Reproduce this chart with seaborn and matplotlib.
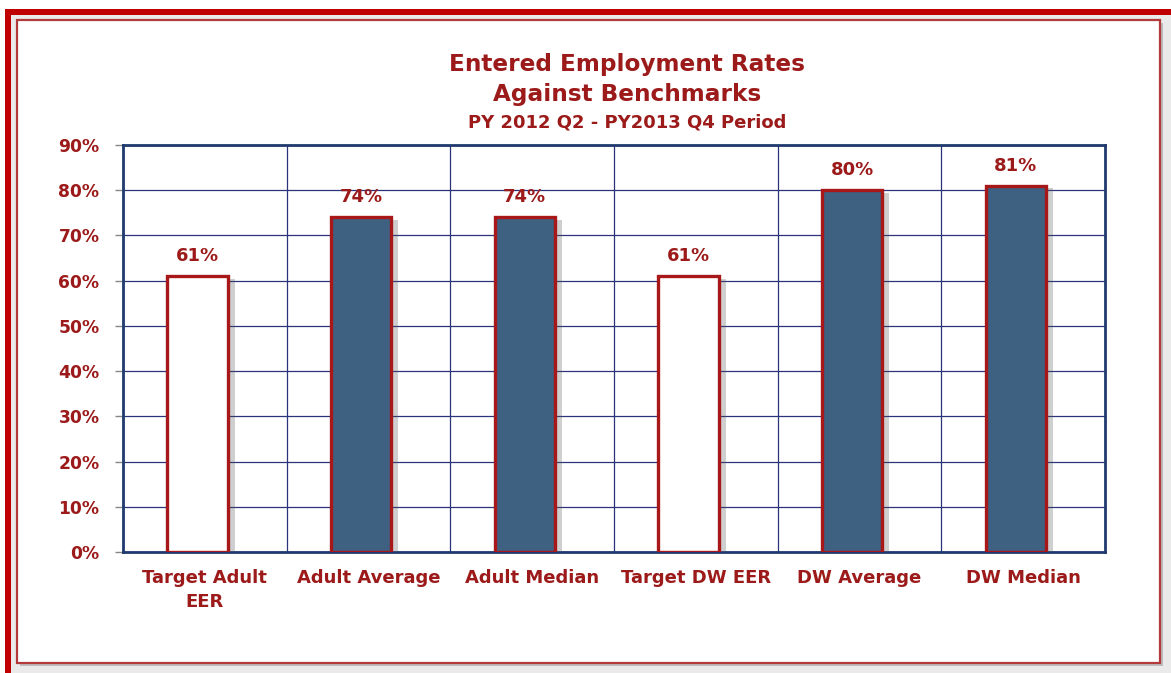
import matplotlib
matplotlib.use("Agg")
import matplotlib.pyplot as plt
import matplotlib.patheffects as pe
from matplotlib.patches import Rectangle
from matplotlib.ticker import FixedLocator
import seaborn as sns
import pandas as pd

categories = ["Target Adult\nEER", "Adult Average", "Adult Median", "Target DW EER", "DW Average", "DW Median"]
values = [61, 74, 74, 61, 80, 81]
is_target = [True, False, False, True, False, False]
title_lines = ["Entered Employment Rates", "Against Benchmarks"]
subtitle = "PY 2012 Q2 - PY2013 Q4 Period"

RED = "#9C1A1A"
EDGE = "#A81818"
FILL = "#3E6081"
NAVY = "#1F3A6E"
GRID = "#2B3478"

sns.set_theme(style="white")
plt.rcParams["font.family"] = ["DejaVu Sans"]

W, H = 1171, 673
fig = plt.figure(figsize=(W / 100, H / 100), dpi=100)
fig.patch.set_facecolor("white")

def frect(x0, y0, x1, y1, **kw):
    r = Rectangle((x0 / W, 1 - y1 / H), (x1 - x0) / W, (y1 - y0) / H,
                  transform=fig.transFigure, **kw)
    fig.patches.append(r)
    return r

# outer decorative border
frect(5, 9, W + 5, H + 5, facecolor="#EAEAEA", edgecolor="none", zorder=0)
frect(5, 9, W + 5, 14.5, facecolor="#C00000", edgecolor="none", zorder=1)
frect(5, 9, 10.5, H + 5, facecolor="#C00000", edgecolor="none", zorder=1)
# inner frame with shadow
frect(20, 23, 1163, 666, facecolor="#BDBDBD", edgecolor="none", zorder=1)
frect(17, 20, 1160, 663, facecolor="white", edgecolor="#B23A3A", linewidth=1.6, zorder=2)

ax = fig.add_axes([123 / W, 1 - 552 / H, (1105 - 123) / W, (552 - 145) / H])
ax.set_zorder(5)
ax.patch.set_facecolor("white")

df = pd.DataFrame({"cat": categories, "val": values})
palette = {c: ("white" if t else FILL) for c, t in zip(categories, is_target)}
sns.barplot(data=df, x="cat", y="val", hue="cat", palette=palette, legend=False,
            width=0.37, saturation=1, ax=ax, edgecolor=EDGE, linewidth=2.4, zorder=3)

for p in ax.patches:
    p.set_x(p.get_x() - 0.045)
    p.set_path_effects([pe.SimplePatchShadow(offset=(5, -2), alpha=0.28, shadow_rgbFace="#555555"), pe.Normal()])

for c in ax.containers:
    ax.bar_label(c, labels=[f"{v:.0f}%" for v in c.datavalues], padding=8,
                 color=RED, fontsize=13, fontweight="bold")

ax.set_ylim(0, 90)
ax.set_xlim(-0.5, len(categories) - 0.5)
ax.set_yticks(range(0, 91, 10))
ax.set_yticklabels([f"{v}%" for v in range(0, 91, 10)])
ax.xaxis.set_minor_locator(FixedLocator([i + 0.5 for i in range(len(categories) - 1)]))
ax.grid(True, axis="y", which="major", color=GRID, linewidth=0.9, zorder=0)
ax.grid(True, axis="x", which="minor", color=GRID, linewidth=0.9, zorder=0)
ax.grid(False, axis="x", which="major")
ax.set_axisbelow(True)

for s in ax.spines.values():
    s.set_visible(True)
    s.set_color(NAVY)
    s.set_linewidth(2)

ax.set_xlabel("")
ax.set_ylabel("")
ax.tick_params(axis="y", which="major", left=True, length=6, width=1, color="#888888",
               pad=11, labelcolor=RED, labelsize=12.3)
ax.tick_params(axis="x", which="major", bottom=True, direction="in", length=4, width=1,
               color="#999999", pad=12, labelcolor=RED, labelsize=13)
ax.tick_params(axis="x", which="minor", bottom=False)
for lab in ax.get_xticklabels() + ax.get_yticklabels():
    lab.set_fontweight("bold")
for lab in ax.get_xticklabels():
    lab.set_linespacing(1.45)

fig.text(627 / W, 1 - 64 / H, title_lines[0], ha="center", va="center",
         color=RED, fontsize=16.7, fontweight="bold", zorder=6)
fig.text(627 / W, 1 - 95 / H, title_lines[1], ha="center", va="center",
         color=RED, fontsize=16.7, fontweight="bold", zorder=6)
fig.text(627 / W, 1 - 122 / H, subtitle, ha="center", va="center",
         color=RED, fontsize=13, fontweight="bold", zorder=6)

fig.savefig("out.png", dpi=100, facecolor=fig.get_facecolor())
